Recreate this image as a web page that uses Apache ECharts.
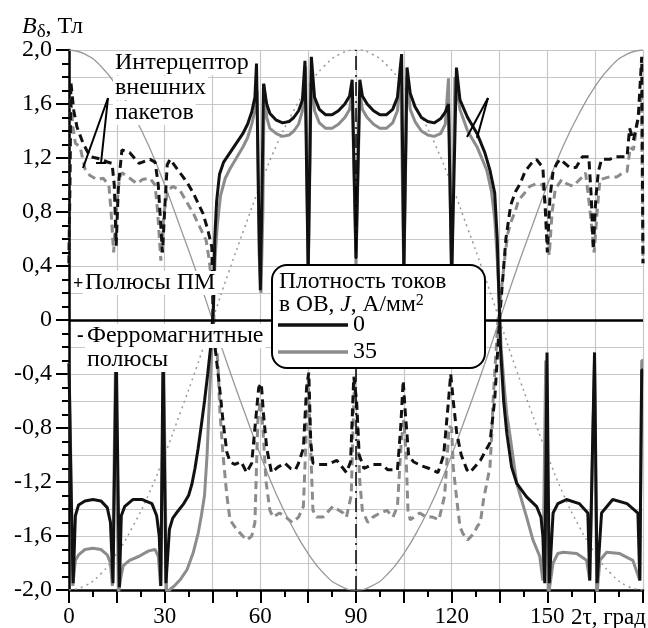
<!DOCTYPE html>
<html>
<head>
<meta charset="utf-8">
<script src="https://cdn.jsdelivr.net/npm/echarts@6/dist/echarts.min.js"></script>
<style>html,body{margin:0;padding:0;background:#fff}#chart{width:648px;height:628px}</style>
</head>
<body>
<div id="chart"></div>
<script>
const FONT = 'Liberation Serif';

// B (Тл) vs 2τ (град)
const solidJ0 = [
  [0,-0.32],[0.6,-1.2],[1.3,-1.95],[2,-1.45],[3,-1.37],[5,-1.34],[7.5,-1.33],[10,-1.34],[12,-1.39],[13,-1.5],
  [13.8,-1.95],[14.8,-0.2],[15.8,-1.98],[16.4,-1.45],[17.5,-1.38],[20,-1.33],[23,-1.33],[26,-1.36],[27.5,-1.45],
  [28.3,-1.6],[28.8,-1.97],[29.5,-0.2],[30.4,-1.95],[31.5,-1.55],[32.5,-1.47],[34,-1.42],[36,-1.36],[37.5,-1.3],
  [38.5,-1.22],[39.5,-1.1],[40.5,-0.95],[41.5,-0.78],[42.5,-0.6],[43.5,-0.4],[44.5,-0.18],[45.3,0.1],[45.7,0.6],
  [46.3,0.88],[47.2,1.08],[48.5,1.17],[50.5,1.24],[52.5,1.31],[54.5,1.38],[56,1.45],[57.3,1.54],[58.3,1.65],
  [58.8,1.9],[59.5,0.8],[60,0.22],[60.5,0.9],[61,1.75],[62,1.6],[63,1.53],[65,1.48],[67,1.46],[69,1.47],
  [70.5,1.5],[72,1.55],[73.2,1.63],[74,1.92],[75,0.35],[76,1.95],[77,1.65],[78.5,1.56],[80.5,1.52],[82.5,1.52],
  [84.5,1.55],[86.5,1.6],[88,1.66],[88.8,1.78],[90,0.46],[91.2,1.78],[92,1.66],[93.5,1.6],[95.5,1.55],[97.5,1.52],
  [99.5,1.52],[101.5,1.56],[103,1.65],[104.3,1.97],[105,0.35],[106,1.87],[107,1.68],[108.5,1.58],[110.5,1.5],
  [112.5,1.47],[114.5,1.46],[116.5,1.49],[118,1.54],[119,1.6],[120,0.3],[121.5,1.87],[122.6,1.63],[125,1.5],
  [128,1.38],[130.4,1.24],[132,1.11],[133.5,0.94],[134.3,0.6],[134.8,0.2],[135.3,-0.2],[136.3,-0.6],[137.3,-0.84],
  [138.8,-1.09],[140.4,-1.21],[143.5,-1.31],[146.6,-1.38],[148,-1.46],[148.6,-1.6],[149.2,-1.95],[149.9,-0.24],
  [150.6,-1.95],[151.8,-1.43],[153.3,-1.36],[156,-1.33],[160,-1.36],[162.7,-1.43],[163.3,-1.93],[164.8,-0.24],
  [165.6,-1.95],[167,-1.43],[170.5,-1.33],[175,-1.36],[178.4,-1.43],[179,-1.93],[179.6,-0.37],[180,-0.37]
];
const solidJ35 = [
  [0,-0.32],[0.7,-1.2],[1.2,-1.97],[2,-1.78],[3,-1.74],[5,-1.7],[7.5,-1.69],[10,-1.7],[12,-1.74],[13,-1.8],
  [13.6,-1.97],[14.6,-0.3],[15.5,-2.03],[16.3,-1.9],[17,-1.82],[19,-1.78],[22,-1.75],[25,-1.71],[27,-1.7],
  [28,-1.75],[28.7,-1.97],[29.7,-0.3],[30.6,-2.05],[31.5,-2.0],[33,-1.97],[35,-1.92],[37,-1.85],[39,-1.72],
  [40.5,-1.58],[41.5,-1.45],[42.5,-1.3],[43.3,-1.0],[44,-0.6],[44.6,-0.3],[45.2,0],[45.8,0.45],[46.5,0.7],
  [47.5,0.92],[49,1.05],[50.5,1.12],[52.5,1.2],[54.5,1.28],[56,1.35],[57.3,1.45],[58.3,1.55],[59,1.7],
  [59.6,0.5],[60.2,0.2],[60.8,0.8],[61.2,1.75],[62,1.5],[63,1.42],[65,1.38],[67,1.36],[69,1.37],[70.5,1.4],
  [72,1.45],[73.2,1.55],[74.2,1.88],[75,0.3],[76,1.85],[77,1.55],[78.5,1.46],[80.5,1.42],[82.5,1.42],[84.5,1.45],
  [86.5,1.5],[88,1.56],[88.8,1.7],[90,0.4],[91.2,1.7],[92,1.56],[93.5,1.5],[95.5,1.45],[97.5,1.42],[99.5,1.42],
  [101.5,1.46],[103,1.55],[104,1.9],[105,0.3],[106,1.8],[107,1.56],[108.5,1.47],[110.5,1.4],[112.5,1.37],
  [114.5,1.36],[116.5,1.38],[118,1.45],[119,1.79],[120,0.25],[121,1.8],[122.6,1.56],[125,1.4],[128,1.28],
  [131,1.11],[132.5,0.95],[133.5,0.75],[134.3,0.45],[135,0.1],[135.5,-0.2],[136.5,-0.5],[137.3,-0.7],
  [138.2,-0.84],[140.4,-1.21],[143.5,-1.46],[145.5,-1.63],[147.6,-1.75],[148.6,-1.93],[149.5,-0.3],[150.3,-2.05],
  [151.8,-1.8],[153.3,-1.73],[155,-1.72],[159.2,-1.73],[162.3,-1.78],[163.3,-1.93],[164.8,-0.3],[165.5,-2.05],
  [166.5,-1.78],[168.6,-1.72],[172.7,-1.73],[176.8,-1.78],[179,-1.93],[179.6,-0.3],[180,-0.3]
];
const dashJ0 = [
  [0,0.42],[0.6,1.76],[1.5,1.55],[2.5,1.43],[4.4,1.31],[6.6,1.21],[8.5,1.2],[10.3,1.19],[12,1.17],[13.5,1.16],
  [14.2,1.0],[14.8,0.55],[15.5,1.0],[16.6,1.26],[19,1.24],[22,1.16],[25.4,1.19],[27,1.17],[28,1.0],[29.3,0.5],
  [30.2,0.9],[30.8,1.15],[31.7,1.19],[34.8,1.09],[37,1.02],[39,0.94],[42,0.79],[43.5,0.67],[44.8,0.54],[45.2,0],
  [45.8,-0.2],[47,-0.45],[48.3,-0.75],[49.5,-0.98],[50.5,-1.05],[52,-1.07],[54,-1.05],[55.7,-1.13],[57.3,-1.06],
  [58.3,-0.8],[59.5,-0.5],[60.3,-0.47],[61,-0.7],[62,-0.95],[63.5,-1.13],[65.5,-1.09],[67.7,-1.06],[69.5,-1.1],
  [71,-1.11],[72,-1.06],[73.5,-0.95],[74.5,-0.5],[75.2,-0.39],[75.8,-0.9],[76.5,-1.06],[78,-1.07],[81,-1.07],
  [84,-1.04],[87,-1.13],[88.3,-1.05],[89.3,-0.42],[90.2,-0.6],[91,-1.0],[92.5,-1.1],[95,-1.07],[98,-1.07],
  [100,-1.11],[103,-1.11],[104,-0.8],[104.8,-0.45],[105.5,-0.7],[106.5,-1.0],[108,-1.05],[110.5,-1.08],[113,-1.1],
  [115.7,-1.13],[117.5,-1.0],[119,-0.6],[119.7,-0.4],[120.5,-0.6],[121.6,-0.84],[123,-1.0],[124.8,-1.11],
  [125.7,-1.13],[129,-1.04],[132,-0.91],[133.5,-0.59],[134.5,-0.2],[135,0],[136,0.3],[137,0.6],[138.5,0.85],
  [140,0.95],[141.5,1.01],[143,1.1],[145,1.16],[146.6,1.19],[148.6,1.13],[149.4,0.8],[150,0.5],[150.8,0.9],
  [151.8,1.1],[153,1.16],[154,1.19],[157,1.13],[159,1.13],[161,1.21],[163,1.21],[163.8,0.9],[164.4,0.52],
  [165.2,0.9],[166,1.1],[167,1.19],[169.5,1.19],[171.5,1.21],[175,1.21],[175.8,1.42],[177,1.33],[178.5,1.5],
  [179.6,1.95],[180,0.42]
];
const dashJ35 = [
  [0,0.42],[0.6,1.65],[1.2,1.43],[2,1.31],[3.5,1.28],[5,1.12],[6.6,1.07],[8.8,1.04],[10.7,1.05],[12.5,1.0],
  [13.2,0.8],[14,0.5],[14.8,0.8],[15.8,1.05],[16.6,1.09],[18.5,1.06],[21.3,1.01],[23,1.04],[25.4,1.05],[27,1.0],
  [27.8,0.8],[28.8,0.44],[29.8,0.8],[31,0.96],[32.6,0.99],[34.8,0.96],[37,0.87],[39,0.79],[41,0.69],[43,0.59],
  [44,0.44],[45,0.2],[45.5,0],[46.7,-0.32],[47.3,-0.67],[48.3,-1.0],[49.5,-1.3],[50.5,-1.48],[52.5,-1.55],
  [54.5,-1.6],[55.8,-1.63],[57.3,-1.6],[58.3,-1.5],[59.2,-0.75],[60,-0.6],[60.8,-0.8],[61.8,-1.2],[63,-1.41],
  [64,-1.46],[66,-1.43],[68,-1.46],[70,-1.5],[72,-1.46],[73.5,-1.38],[74.3,-0.9],[75,-0.42],[75.7,-0.9],
  [76.5,-1.41],[77.7,-1.46],[79.6,-1.46],[82.8,-1.38],[86,-1.43],[87,-1.46],[88.5,-1.3],[89.5,-0.45],[90.3,-0.7],
  [91.2,-1.2],[92,-1.41],[93.7,-1.5],[95.3,-1.46],[97.5,-1.43],[99.7,-1.41],[101.6,-1.46],[103,-1.38],
  [104.2,-0.9],[105,-0.74],[105.7,-1.0],[106.3,-1.41],[107,-1.48],[110,-1.43],[112,-1.46],[114,-1.46],
  [116,-1.48],[117.8,-1.3],[119.2,-0.79],[120,-0.8],[120.5,-1.09],[121.6,-1.33],[122.6,-1.53],[123.5,-1.58],
  [125,-1.63],[127,-1.58],[128,-1.53],[129,-1.5],[130,-1.33],[131,-1.21],[132,-1.09],[132.6,-0.84],[133,-0.59],
  [134,-0.2],[134.5,0],[135.5,0.2],[136.7,0.47],[137.6,0.64],[138.5,0.72],[140,0.81],[141,0.89],[142.5,0.93],
  [144.5,0.99],[146.6,1.01],[148.6,1.0],[149.6,0.8],[150.6,0.48],[151.5,0.8],[152.5,0.97],[154.5,1.04],
  [156,1.01],[158,0.99],[161,1.06],[162,1.09],[163.2,0.85],[164.7,0.5],[165.6,0.8],[166.5,1.04],[169.5,1.06],
  [171.8,1.06],[173.7,1.09],[175,1.1],[176,1.28],[177,1.26],[178,1.43],[179,1.56],[179.5,1.7],[180,0.42]
];
const angles5 = [0,5,10,15,20,25,30,35,40,45,50,55,60,65,70,75,80,85,90,95,100,105,110,115,120,125,130,135,140,145,150,155,160,165,170,175,180];
const thinLine = [2.0,1.97,1.88,1.73,1.53,1.29,1.0,0.68,0.35,0,-0.35,-0.68,-1.0,-1.29,-1.53,-1.73,-1.88,-1.97,-2.0,
  -1.97,-1.88,-1.73,-1.53,-1.29,-1.0,-0.68,-0.35,0,0.35,0.68,1.0,1.29,1.53,1.73,1.88,1.97,2.0];
const dotLine = [-2.0,-1.97,-1.88,-1.73,-1.53,-1.29,-1.0,-0.68,-0.35,0,0.35,0.68,1.0,1.29,1.53,1.73,1.88,1.97,2.0,
  1.97,1.88,1.73,1.53,1.29,1.0,0.68,0.35,0,-0.35,-0.68,-1.0,-1.29,-1.53,-1.73,-1.88,-1.97,-2.0];

const xLabels = [0, 30, 60, 90, 120, 150];

const chart = echarts.init(document.getElementById('chart'));
const txt = (text, x, y, extra) => ({
  type: 'text', x: x, y: y, z: 100,
  style: Object.assign({text: text, fontSize: 24, fontFamily: FONT, fill: '#000', verticalAlign: 'middle'}, extra || {})
});
const seg = (x1, y1, x2, y2) => ({
  type: 'line', z: 100, shape: {x1: x1, y1: y1, x2: x2, y2: y2},
  style: {stroke: '#000', lineWidth: 2}
});

chart.setOption({
  animation: false,
  textStyle: {fontFamily: FONT},
  grid: {left: 69, right: 5, top: 50, bottom: 38},
  xAxis: {
    type: 'value', min: 0, max: 180, interval: 15,
    axisLine: {onZero: false, lineStyle: {color: '#000', width: 2.5}},
    axisTick: {length: 13, lineStyle: {color: '#000', width: 2}},
    minorTick: {show: true, splitNumber: 2, length: 7, lineStyle: {color: '#000', width: 2}},
    axisLabel: {
      margin: 15, color: '#000', fontSize: 23, fontFamily: FONT,
      formatter: v => xLabels.includes(v) ? String(v) : ''
    },
    splitLine: {show: true, lineStyle: {color: '#c8c8c8', width: 1.2}}
  },
  yAxis: [{
    type: 'value', min: -2, max: 2, interval: 0.4,
    axisLine: {lineStyle: {color: '#000', width: 2.5}},
    axisTick: {length: 13, lineStyle: {color: '#000', width: 2}},
    minorTick: {show: true, splitNumber: 4, length: 7, lineStyle: {color: '#000', width: 2}},
    axisLabel: {
      margin: 17, color: '#000', fontSize: 24, fontFamily: FONT,
      formatter: v => Math.abs(v) < 1e-9 ? '0' : v.toFixed(1).replace('.', ',')
    },
    splitLine: {show: false}
  }, {
    type: 'value', min: -2, max: 2, interval: 0.2, position: 'left',
    axisLine: {show: false}, axisTick: {show: false}, axisLabel: {show: false},
    splitLine: {show: true, lineStyle: {color: '#c8c8c8', width: 1.2}}
  }],
  legend: {
    data: ['0', '35'], orient: 'vertical', left: 278, top: 313,
    icon: 'rect', itemWidth: 70, itemHeight: 3.5, itemGap: 3, padding: 0, z: 110,
    textStyle: {fontSize: 24, fontFamily: FONT, color: '#000', lineHeight: 24}
  },
  series: [
    {name: 'cos', type: 'line', data: angles5.map((a, i) => [a, thinLine[i]]), smooth: true,
      showSymbol: false, symbol: 'none', silent: true,
      lineStyle: {color: '#999', width: 1.3}},
    {name: 'dot', type: 'line', data: angles5.map((a, i) => [a, dotLine[i]]), smooth: true,
      showSymbol: false, symbol: 'none', silent: true,
      lineStyle: {color: '#999', width: 1.5, type: [2, 4]}},
    {name: 'd35', type: 'line', data: dashJ35, showSymbol: false, symbol: 'none', silent: true,
      lineStyle: {color: '#8c8c8c', width: 3, type: [8, 5]}},
    {name: 'd0', type: 'line', data: dashJ0, showSymbol: false, symbol: 'none', silent: true,
      lineStyle: {color: '#111', width: 3, type: [8, 5]}},
    {name: '35', type: 'line', data: solidJ35, showSymbol: false, symbol: 'none', silent: true,
      itemStyle: {color: '#8c8c8c'}, lineStyle: {color: '#8c8c8c', width: 3}},
    {name: '0', type: 'line', data: solidJ0, showSymbol: false, symbol: 'none', silent: true,
      itemStyle: {color: '#111'}, lineStyle: {color: '#111', width: 3},
      markLine: {
        silent: true, symbol: 'none', label: {show: false},
        data: [
          {yAxis: 0, lineStyle: {color: '#000', width: 2.5, type: 'solid'}},
          {xAxis: 90, lineStyle: {color: '#000', width: 1.5, type: [14, 5, 2, 5]}}
        ]
      }}
  ],
  graphic: {elements: [
    // axis names
    txt('{b|B}{s|δ}{n|, Тл}', 22, 27, {rich: {
      b: {fontSize: 24, fontFamily: FONT, fontStyle: 'italic', fill: '#000', verticalAlign: 'middle'},
      s: {fontSize: 19, fontFamily: FONT, fill: '#000', verticalAlign: 'bottom', padding: [10, 0, 0, 0]},
      n: {fontSize: 24, fontFamily: FONT, fill: '#000', verticalAlign: 'middle'}
    }}),
    txt('2τ, град', 646, 618, {align: 'right', fontSize: 23}),
    // annotations
    txt('Интерцептор', 113, 63, {backgroundColor: '#fff', padding: [0, 2]}),
    txt('внешних', 113, 88, {backgroundColor: '#fff', padding: [0, 2]}),
    txt('пакетов', 113, 113, {backgroundColor: '#fff', padding: [0, 2]}),
    seg(108, 98, 83, 168), seg(108, 98, 101, 163), seg(96, 163, 106, 163),
    seg(488, 98, 467, 137), seg(488, 98, 477, 138),
    txt('+', 73, 284, {fontSize: 18, fontWeight: 'bold'}),
    txt('Полюсы ПМ', 83, 283, {backgroundColor: '#fff', padding: [0, 2]}),
    txt('-', 77, 336, {fontSize: 20, fontWeight: 'bold'}),
    txt('Ферромагнитные', 85, 336, {backgroundColor: '#fff', padding: [0, 2]}),
    txt('полюсы', 85, 360, {backgroundColor: '#fff', padding: [0, 2]}),
    // legend box
    {type: 'rect', z: 100, shape: {x: 272, y: 265, width: 213, height: 103, r: 15},
      style: {fill: '#fff', stroke: '#000', lineWidth: 2}},
    txt('Плотность токов', 279, 282, {fontSize: 23.5}),
    txt('{n|в ОВ, }{i|J}{n|, А/мм}{p|2}', 279, 305, {rich: {
      n: {fontSize: 23.5, fontFamily: FONT, fill: '#000', verticalAlign: 'middle'},
      i: {fontSize: 23.5, fontFamily: FONT, fontStyle: 'italic', fill: '#000', verticalAlign: 'middle'},
      p: {fontSize: 16, fontFamily: FONT, fill: '#000', verticalAlign: 'top'}
    }})
  ]}
});
</script>
</body>
</html>
